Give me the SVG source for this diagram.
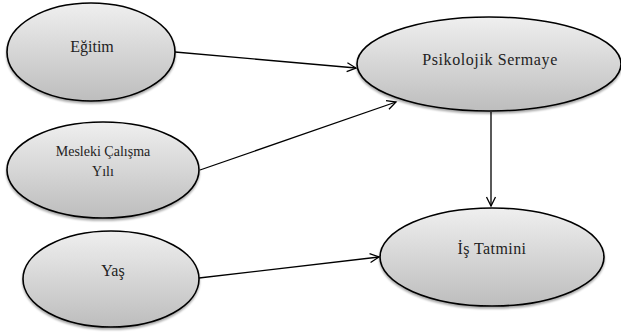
<svg xmlns="http://www.w3.org/2000/svg" width="621" height="333" viewBox="0 0 621 333">
<style>
.node ellipse{fill:url(#g);stroke:#000;stroke-width:1.6;filter:url(#sh)}
text{font-family:"Times New Roman","Liberation Serif","DejaVu Serif",serif;fill:#222;text-anchor:middle}
.conn line{stroke:#000;stroke-width:1.3;marker-end:url(#ah)}
</style>
<defs>
<linearGradient id="g" x1="0" y1="0" x2="0" y2="1">
<stop offset="0" stop-color="#efefef"/>
<stop offset="1" stop-color="#bdbdbd"/>
</linearGradient>
<filter id="sh" x="-10%" y="-10%" width="120%" height="130%">
<feGaussianBlur in="SourceAlpha" stdDeviation="1.2"/>
<feOffset dx="0" dy="1.5" result="b"/>
<feComponentTransfer><feFuncA type="linear" slope="0.35"/></feComponentTransfer>
<feMerge><feMergeNode/><feMergeNode in="SourceGraphic"/></feMerge>
</filter>
<marker id="ah" markerWidth="12" markerHeight="12" refX="10" refY="6" orient="auto" markerUnits="userSpaceOnUse">
<path d="M1,1.5 L10,6 L1,10.5" fill="none" stroke="#000" stroke-width="1.3"/>
</marker>
</defs>
<g class="conn" id="connectors">
<line x1="175" y1="52" x2="356" y2="68"/>
<line x1="200" y1="170" x2="396" y2="102"/>
<line x1="491" y1="112" x2="491" y2="206"/>
<line x1="199" y1="278" x2="379" y2="257"/>
</g>
<g class="node" id="egitim"><ellipse cx="91" cy="52" rx="84" ry="49"/><text x="92" y="52" font-size="16">Eğitim</text></g>
<g class="node" id="mesleki"><ellipse cx="103" cy="170" rx="96" ry="48"/><text x="103" y="156" font-size="14">Mesleki Çalışma</text><text x="103" y="176" font-size="14">Yılı</text></g>
<g class="node" id="yas"><ellipse cx="111" cy="279" rx="88" ry="48"/><text x="113" y="276" font-size="16">Yaş</text></g>
<g class="node" id="psikolojik"><ellipse cx="489" cy="64" rx="132" ry="47"/><text x="490" y="65" font-size="16" letter-spacing="0.6">Psikolojik Sermaye</text></g>
<g class="node" id="istatmini"><ellipse cx="492" cy="257" rx="112" ry="49"/><text x="492" y="254" font-size="16" letter-spacing="0.4">İş Tatmini</text></g>
</svg>
